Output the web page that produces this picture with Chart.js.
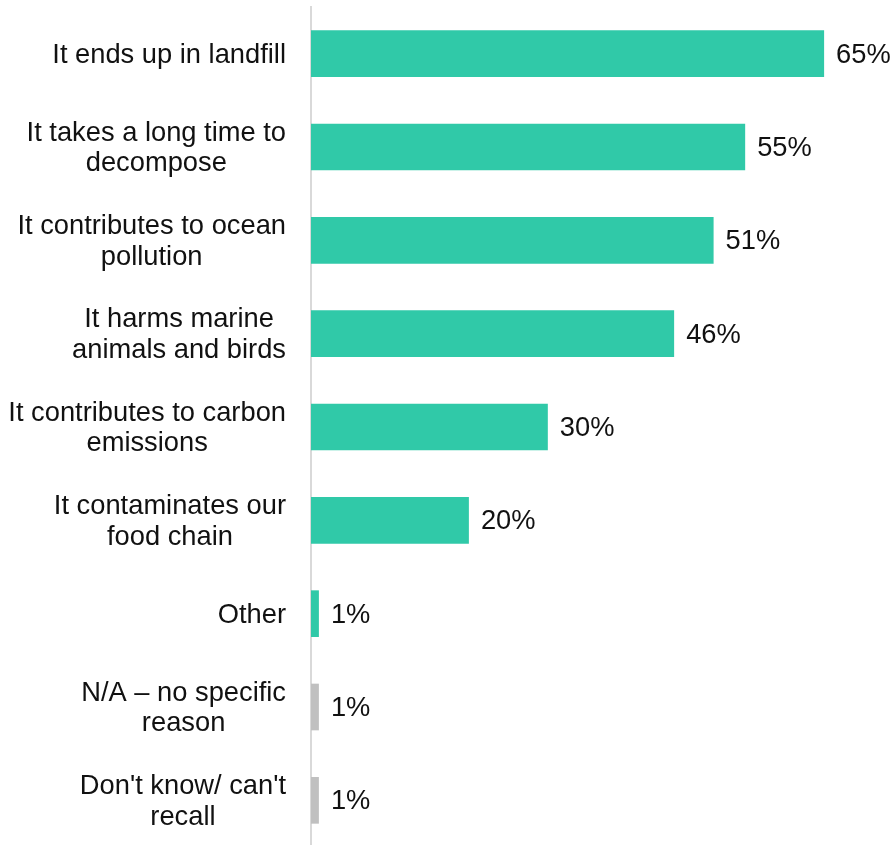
<!DOCTYPE html>
<html>
<head>
<meta charset="utf-8">
<script src="https://cdn.jsdelivr.net/npm/chart.js@4.4.0/dist/chart.umd.min.js"></script>
<style>
    html, body { margin: 0; padding: 0; background: #fff; overflow: hidden; }
</style>
</head>
<body>
<canvas id="myChart" width="892" height="848"></canvas>
<script>
// Déclaration des données

const categories = [
    ['It ends up in landfill'],
    ['It takes a long time to', 'decompose'],
    ['It contributes to ocean', 'pollution'],
    ['It harms marine', 'animals and birds'],
    ['It contributes to carbon', 'emissions'],
    ['It contaminates our', 'food chain'],
    ['Other'],
    ['N/A \u2013 no specific', 'reason'],
    ["Don't know/ can't", 'recall'],
];

const percentages = [65, 55, 51, 46, 30, 20, 1, 1, 1];

// Les deux dernières réponses (sans raison) sont en gris
const nbReponsesNeutres = 2;

// Configuration de l'apparence
const police = "27.3px 'Liberation Sans', Arial, sans-serif";
const couleurTexte = '#111111';
const vert = '#30c9a8';
const gris = '#c0c0c0';
const bordEtiquettes = 286;   // bord droit des libellés
const interligne = 30.5;
const decalageTexte = 1.5;    // recentre la ligne de base "middle"

// Libellés des catégories : bloc aligné à droite, lignes centrées
const libellesCategories = {
    id: 'libellesCategories',
    afterDraw(chart) {
        const ctx = chart.ctx;
        const echelleY = chart.scales.y;
        ctx.save();
        ctx.font = police;
        ctx.fillStyle = couleurTexte;
        ctx.textAlign = 'center';
        ctx.textBaseline = 'middle';
        chart.data.labels.forEach((lignes, i) => {
            const largeur = Math.max(...lignes.map(l => ctx.measureText(l).width));
            const centreX = bordEtiquettes - largeur / 2;
            const yCentre = echelleY.getPixelForValue(i) + decalageTexte;
            const yDebut = yCentre - (lignes.length - 1) * interligne / 2;
            lignes.forEach((ligne, j) => {
                ctx.fillText(ligne, centreX, yDebut + j * interligne);
            });
        });
        ctx.restore();
    }
};

// Valeurs affichées au bout des barres
const valeursBarres = {
    id: 'valeursBarres',
    afterDatasetsDraw(chart) {
        const ctx = chart.ctx;
        const meta = chart.getDatasetMeta(0);
        const valeurs = chart.data.datasets[0].data;
        ctx.save();
        ctx.font = police;
        ctx.fillStyle = couleurTexte;
        ctx.textAlign = 'left';
        ctx.textBaseline = 'middle';
        meta.data.forEach((barre, i) => {
            ctx.fillText(valeurs[i] + '%', barre.x + 12, barre.y + decalageTexte);
        });
        ctx.restore();
    }
};

const data = {
    labels: categories,
    datasets: [{
        data: percentages,
        backgroundColor: (c) => c.dataIndex < percentages.length - nbReponsesNeutres ? vert : gris,
        borderWidth: 0,
        barPercentage: 0.5,
        categoryPercentage: 1.0,
    }]
};

// Configuration de la chart.
const config = {
    type: 'bar',
    data: data,
    options: {
        indexAxis: 'y',
        responsive: false,
        animation: false,
        layout: {
            padding: { top: 7, bottom: 1, left: 0, right: 0 }
        },
        scales: {
            x: {
                type: 'linear',
                min: 0,
                max: 73.6,
                display: false,
            },
            y: {
                ticks: { display: false },
                grid: { display: false },
                border: { display: true, color: '#d9d9d9', width: 2 },
                afterFit(scale) {
                    scale.width = 311;
                },
            },
        },
        plugins: {
            legend: { display: false },
            tooltip: { enabled: false },
            title: { display: false },
        }
    },
    plugins: [libellesCategories, valeursBarres],
};

// Affichage du document
var myChart = new Chart(
    document.getElementById('myChart'),
    config
);
</script>
</body>
</html>
